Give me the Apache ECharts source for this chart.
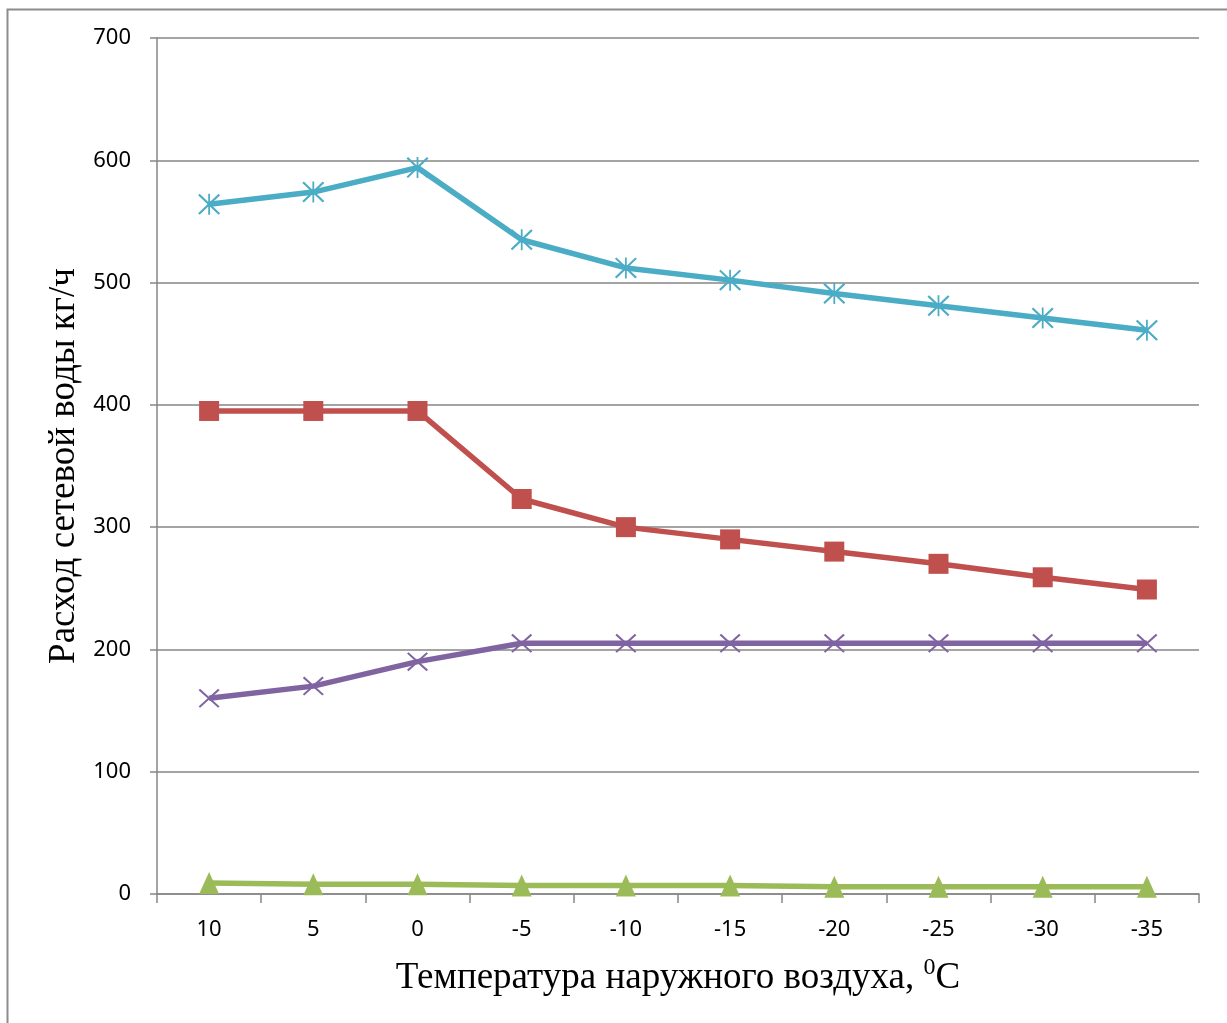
<!DOCTYPE html>
<html>
<head>
<meta charset="utf-8">
<script src="https://cdn.jsdelivr.net/npm/echarts@6/dist/echarts.min.js"></script>
<style>
  html, body { margin: 0; padding: 0; background: #fff; }
  #chart { width: 1227px; height: 1023px; }
</style>
</head>
<body>
<div id="chart"></div>
<script>
// категории (температура наружного воздуха)
const temps = ['10', '5', '0', '-5', '-10', '-15', '-20', '-25', '-30', '-35'];

// значения рядов
const cyanVals = [564, 574, 594, 535, 512, 502, 491, 481, 471, 461];
const redVals = [395, 395, 395, 323, 300, 290, 280, 270, 259, 249];
const purpleVals = [160, 170, 190, 205, 205, 205, 205, 205, 205, 205];
const greenVals = [9, 8, 8, 7, 7, 7, 6, 6, 6, 6];

const yTicks = [0, 100, 200, 300, 400, 500, 600, 700];

// маркеры: крестик и звёздочка из тонких полосок
const xPath = 'path://M0,1.4L1.4,0L20,18.6L18.6,20Z M18.6,0L20,1.4L1.4,20L0,18.6Z';
const starPath = xPath + ' M9.2,0L10.8,0L10.8,20L9.2,20Z';

const axisGrey = '#868686';

let myChart = echarts.init(document.getElementById('chart'));

function lineSeries(name, data, color, symbol, size) {
  return {
    name: name,
    type: 'line',
    data: data,
    symbol: symbol,
    symbolSize: size,
    showAllSymbol: true,
    lineStyle: { color: color, width: 5.5 },
    itemStyle: { color: color, borderWidth: 0 },
    emphasis: { disabled: true },
    z: 3
  };
}

let option = {
  animation: false,
  backgroundColor: '#fff',
  graphic: [
    {
      type: 'rect',
      shape: { x: 7.5, y: 9.5, width: 1400, height: 1200 },
      style: { fill: 'none', stroke: '#8c8c8c', lineWidth: 2 },
      silent: true,
      z: -1
    }
  ],
  grid: {
    left: 157,
    top: 38,
    right: 28,
    bottom: 129,
    containLabel: false
  },
  xAxis: {
    type: 'category',
    data: temps,
    boundaryGap: true,
    name: '{t|Температура наружного воздуха, }{s|0}{t|C}',
    nameLocation: 'middle',
    nameGap: 62,
    nameTextStyle: {
      rich: {
        t: { fontFamily: 'Liberation Serif', fontSize: 37, color: '#000', verticalAlign: 'bottom' },
        s: { fontFamily: 'Liberation Serif', fontSize: 24, color: '#000', verticalAlign: 'top', padding: [0, 0, 17, 0] }
      }
    },
    axisLine: { lineStyle: { color: axisGrey, width: 1.5 } },
    axisTick: { show: true, length: 9, lineStyle: { color: axisGrey, width: 1.5 } },
    axisLabel: {
      margin: 25,
      fontFamily: 'Noto Sans',
      fontSize: 22,
      color: '#000'
    },
    splitLine: { show: false }
  },
  yAxis: {
    type: 'value',
    min: yTicks[0],
    max: yTicks[yTicks.length - 1],
    interval: 100,
    name: 'Расход сетевой воды кг/ч',
    nameLocation: 'middle',
    nameGap: 66,
    nameRotate: 90,
    nameTextStyle: { fontFamily: 'Liberation Serif', fontSize: 37, color: '#000' },
    axisLine: { show: true, lineStyle: { color: axisGrey, width: 1.5 } },
    axisTick: { show: true, length: 7, lineStyle: { color: axisGrey, width: 1.5 } },
    axisLabel: {
      margin: 26,
      fontFamily: 'Noto Sans',
      fontSize: 22,
      color: '#000'
    },
    splitLine: { lineStyle: { color: axisGrey, width: 1.5 } }
  },
  series: [
    lineSeries('ряд 1', redVals, '#C0504D', 'rect', 20),
    lineSeries('ряд 2', greenVals, '#9BBB59', 'triangle', [20, 22]),
    lineSeries('ряд 3', purpleVals, '#8064A2', xPath, [21, 19]),
    lineSeries('ряд 4', cyanVals, '#4BACC6', starPath, [22, 21])
  ]
};

myChart.setOption(option);
</script>
</body>
</html>
